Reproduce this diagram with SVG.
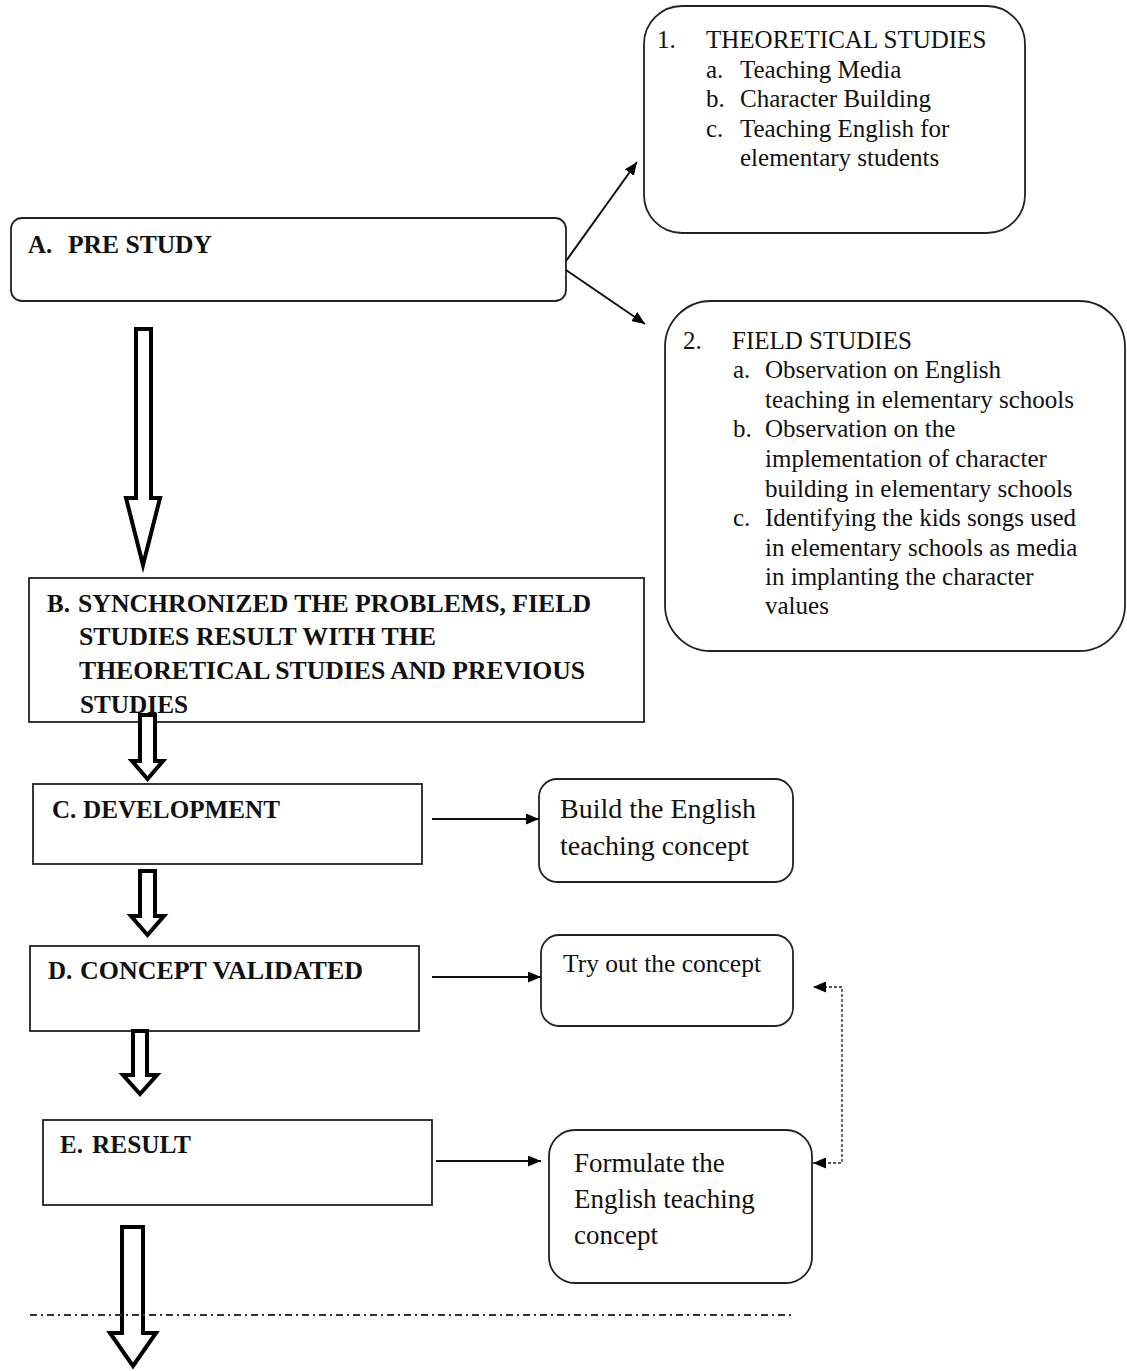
<svg xmlns="http://www.w3.org/2000/svg" width="1127" height="1371" viewBox="0 0 1127 1371">
<style>
.box{fill:#fff;stroke:#222;stroke-width:1.8}
.t{font-family:"Liberation Serif","Times New Roman",serif;font-size:25px;fill:#111}
.b{font-family:"Liberation Serif","Times New Roman",serif;font-size:25px;font-weight:bold;fill:#111}
.ln{fill:none;stroke:#111;stroke-width:2}
.hollow{fill:#fff;stroke:#000;stroke-width:4;stroke-linejoin:miter;stroke-miterlimit:10}
.dash{fill:none;stroke:#222;stroke-width:1.3;stroke-dasharray:3 2}
.dashdot{fill:none;stroke:#333;stroke-width:1.8;stroke-dasharray:7 4 2 4}
</style>
<defs>
<marker id="ah" viewBox="0 0 13 11" refX="13" refY="5.5" markerWidth="13" markerHeight="11" markerUnits="userSpaceOnUse" orient="auto">
<path d="M0,0 L13,5.5 L0,11 z" fill="#000"/>
</marker>
<marker id="ahs" viewBox="0 0 13 11" refX="13" refY="5.5" markerWidth="13" markerHeight="11" markerUnits="userSpaceOnUse" orient="auto-start-reverse">
<path d="M0,0 L13,5.5 L0,11 z" fill="#000"/>
</marker>
</defs>

<g id="nodeA">
<rect class="box" x="11" y="218" width="555" height="83" rx="11"/>
<text class="b" x="28" y="253">A.</text>
<text class="b" x="68" y="253" textLength="144" lengthAdjust="spacingAndGlyphs">PRE STUDY</text>
</g>

<g id="nodeTheory">
<rect class="box" x="644" y="6" width="381" height="227" rx="38"/>
<text class="t" x="657" y="48">1.</text>
<text class="t" x="706" y="48">THEORETICAL STUDIES</text>
<text class="t" x="706" y="78">a.</text>
<text class="t" x="740" y="78">Teaching Media</text>
<text class="t" x="706" y="107">b.</text>
<text class="t" x="740" y="107">Character Building</text>
<text class="t" x="706" y="137">c.</text>
<text class="t" x="740" y="137">Teaching English for</text>
<text class="t" x="740" y="166">elementary students</text>
</g>

<g id="nodeField">
<rect class="box" x="665" y="301" width="460" height="350" rx="46"/>
<text class="t" x="683" y="349">2.</text>
<text class="t" x="732" y="349">FIELD STUDIES</text>
<text class="t" x="733" y="378">a.</text>
<text class="t" x="765" y="378">Observation on English</text>
<text class="t" x="765" y="408">teaching in elementary schools</text>
<text class="t" x="733" y="437">b.</text>
<text class="t" x="765" y="437">Observation on the</text>
<text class="t" x="765" y="467">implementation of character</text>
<text class="t" x="765" y="497">building in elementary schools</text>
<text class="t" x="733" y="526">c.</text>
<text class="t" x="765" y="526">Identifying the kids songs used</text>
<text class="t" x="765" y="556">in elementary schools as media</text>
<text class="t" x="765" y="585">in implanting the character</text>
<text class="t" x="765" y="614">values</text>
</g>

<g id="nodeB">
<rect class="box" x="29" y="578" width="615" height="144"/>
<text class="b" x="47" y="612">B.</text>
<text class="b" x="78" y="612" textLength="513" lengthAdjust="spacingAndGlyphs">SYNCHRONIZED  THE PROBLEMS, FIELD</text>
<text class="b" x="79" y="645" textLength="357" lengthAdjust="spacingAndGlyphs">STUDIES RESULT WITH THE</text>
<text class="b" x="79" y="679" textLength="506" lengthAdjust="spacingAndGlyphs">THEORETICAL STUDIES AND PREVIOUS</text>
<text class="b" x="80" y="713" textLength="108" lengthAdjust="spacingAndGlyphs">STUDIES</text>
</g>

<g id="nodeC">
<rect class="box" x="33" y="784" width="389" height="80"/>
<text class="b" x="52" y="818">C.</text>
<text class="b" x="83" y="818" textLength="197" lengthAdjust="spacingAndGlyphs">DEVELOPMENT</text>
</g>

<g id="nodeD">
<rect class="box" x="30" y="946" width="389" height="85"/>
<text class="b" x="48" y="979">D.</text>
<text class="b" x="80" y="979" textLength="283" lengthAdjust="spacingAndGlyphs">CONCEPT VALIDATED</text>
</g>

<g id="nodeE">
<rect class="box" x="43" y="1120" width="389" height="85"/>
<text class="b" x="60" y="1153">E.</text>
<text class="b" x="92" y="1153" textLength="99" lengthAdjust="spacingAndGlyphs">RESULT</text>
</g>

<g id="nodeBuild">
<rect class="box" x="539" y="779" width="254" height="103" rx="18"/>
<text class="t" x="560" y="818" style="font-size:28px">Build the English</text>
<text class="t" x="560" y="855" style="font-size:28px">teaching concept</text>
</g>

<g id="nodeTry">
<rect class="box" x="541" y="935" width="252" height="91" rx="18"/>
<text class="t" x="563" y="972" textLength="198" lengthAdjust="spacingAndGlyphs">Try out the concept</text>
</g>

<g id="nodeFormulate">
<rect class="box" x="549" y="1130" width="263" height="153" rx="26"/>
<text class="t" x="574" y="1172" style="font-size:27px">Formulate the</text>
<text class="t" x="574" y="1208" style="font-size:27px">English teaching</text>
<text class="t" x="574" y="1244" style="font-size:27px">concept</text>
</g>

<g id="connectors">
<line class="ln" x1="566" y1="261" x2="637" y2="162" marker-end="url(#ah)"/>
<line class="ln" x1="566" y1="270" x2="645" y2="324" marker-end="url(#ah)"/>
<line class="ln" x1="432" y1="819" x2="539" y2="819" marker-end="url(#ah)"/>
<line class="ln" x1="432" y1="977" x2="541" y2="977" marker-end="url(#ah)"/>
<line class="ln" x1="436" y1="1161" x2="541" y2="1161" marker-end="url(#ah)"/>
<path class="dash" d="M813,1163 H842 V987 H813" marker-start="url(#ahs)" marker-end="url(#ah)"/>
<polygon class="hollow" points="136,329 151,329 151,498 160,498 143,565 126,498 136,498"/>
<polygon class="hollow" points="140,715 155,715 155,761 163,761 147.5,779 132,761 140,761"/>
<polygon class="hollow" points="140,871 155,871 155,916 164,916 147.5,935 131,916 140,916"/>
<polygon class="hollow" points="133,1031 147,1031 147,1075 157,1075 140,1094 123,1075 133,1075"/>
<polygon class="hollow" points="122,1227 143,1227 143,1333 156,1333 133,1366 110,1333 122,1333"/>
<line class="dashdot" x1="30" y1="1315" x2="793" y2="1315"/>
</g>
</svg>
